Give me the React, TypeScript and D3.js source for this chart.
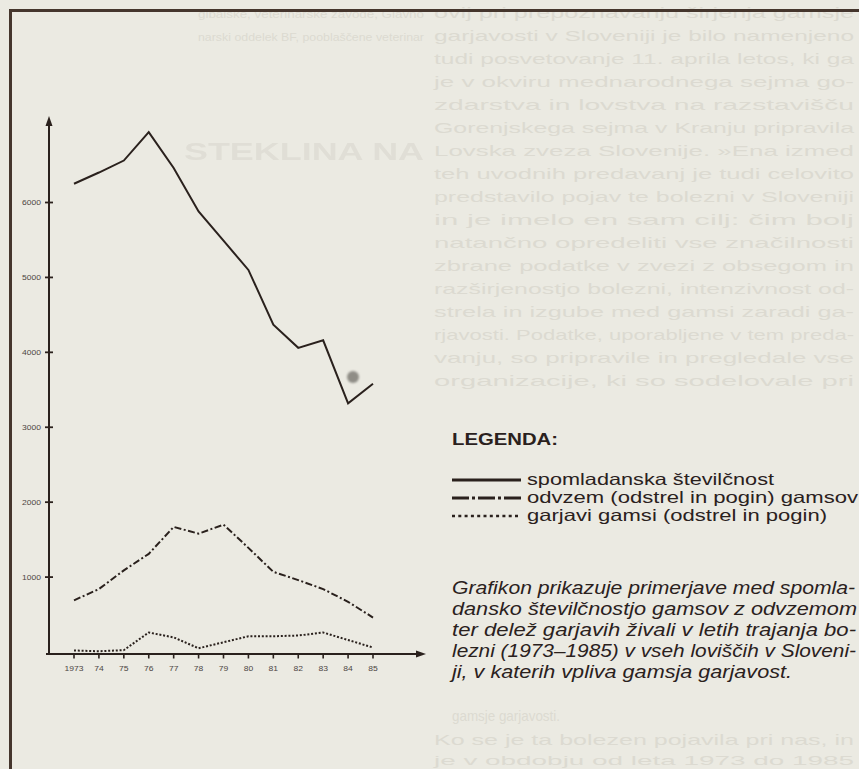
import { useMemo } from "react";
import * as d3 from "d3";

// years on the x axis
const years = [1973, 1974, 1975, 1976, 1977, 1978, 1979, 1980, 1981, 1982, 1983, 1984, 1985];
const yearLabels = ["1973", "74", "75", "76", "77", "78", "79", "80", "81", "82", "83", "84", "85"];

// spomladanska številčnost
const springCount = [6250, 6400, 6560, 6940, 6460, 5880, 5490, 5100, 4370, 4060, 4160, 3320, 3580];
// odvzem (odstrel in pogin) gamsov
const culled = [690, 840, 1090, 1310, 1670, 1580, 1700, 1390, 1070, 960, 840, 670, 460];
// garjavi gamsi (odstrel in pogin)
const mangy = [20, 10, 25, 260, 195, 50, 130, 210, 210, 220, 260, 160, 60];

const yTicks = [1000, 2000, 3000, 4000, 5000, 6000];

const legendLabels = [
  "spomladanska številčnost",
  "odvzem (odstrel in pogin) gamsov",
  "garjavi gamsi (odstrel in pogin)",
];

const captionLines = [
  "Grafikon prikazuje primerjave med spomla-",
  "dansko številčnostjo gamsov z odvzemom",
  "ter delež garjavih živali v letih trajanja bo-",
  "lezni (1973–1985) v vseh loviščih v Sloveni-",
  "ji, v katerih vpliva gamsja garjavost.",
];

// faint print showing through from the rest of the page
const pageTextRight = [
  "ovij pri prepoznavanju širjenja gamsje",
  "garjavosti v Sloveniji je bilo namenjeno",
  "tudi posvetovanje 11. aprila letos, ki ga",
  "je v okviru mednarodnega sejma go-",
  "zdarstva in lovstva na razstavišču",
  "Gorenjskega sejma v Kranju pripravila",
  "Lovska zveza Slovenije. »Ena izmed",
  "teh uvodnih predavanj je tudi celovito",
  "predstavilo pojav te bolezni v Sloveniji",
  "in je imelo en sam cilj: čim bolj",
  "natančno opredeliti vse značilnosti",
  "zbrane podatke v zvezi z obsegom in",
  "razširjenostjo bolezni, intenzivnost od-",
  "strela in izgube med gamsi zaradi ga-",
  "rjavosti. Podatke, uporabljene v tem preda-",
  "vanju, so pripravile in pregledale vse",
  "organizacije, ki so sodelovale pri",
];
const pageTextLeft = ["gibalske, veterinarske zavode, Glavno", "narski oddelek BF, pooblaščene veterinar"];
const pageTextBottom = ["gamsje garjavosti.", "Ko se je ta bolezen pojavila pri nas, in", "je v obdobju od leta 1973 do 1985"];

const W = 859;
const H = 769;
const ink = "#2a211d";
const paper = "#ebeae2";
const ghost = "#dcdad1";

export default function App() {
  const x = useMemo(() => d3.scaleLinear().domain([1973, 1985]).range([74, 373]), []);
  const y = useMemo(() => d3.scaleLinear().domain([0, 6000]).range([652, 202.5]), []);

  const line = d3
    .line<number>()
    .x((_, i) => x(years[i]))
    .y((d) => y(d));

  const axisY = 654;
  const axisX = 49;

  const legendX = 452;
  const legendRows = [480, 498, 516];
  const legendDash = ["none", "17 3 3 3", "3 3.3"];
  const legendWidths = [247, 331, 300];

  const captionWidths = [403, 405, 404, 404, 340];

  return (
    <svg
      width={W}
      height={H}
      style={{ position: "absolute", left: 0, top: 0, display: "block", background: paper }}
      fontFamily="'Liberation Sans', Arial, sans-serif"
    >
      <defs>
        <filter id="soft" x="-50%" y="-50%" width="200%" height="200%">
          <feGaussianBlur stdDeviation="1.2" />
        </filter>
      </defs>
      <rect width={W} height={H} fill={paper} />

      {/* show-through text */}
      <g fill={ghost} fontSize={15}>
        {pageTextRight.map((t, i) => (
          <text key={t} x={434} y={18 + i * 23} textLength={420} lengthAdjust="spacingAndGlyphs">
            {t}
          </text>
        ))}
        {pageTextLeft.map((t, i) => (
          <text
            key={t}
            x={198}
            y={18 + i * 23}
            fontSize={11.5}
            textLength={226}
            lengthAdjust="spacingAndGlyphs"
          >
            {t}
          </text>
        ))}
        <text x={452} y={721} textLength={108} lengthAdjust="spacingAndGlyphs">
          {pageTextBottom[0]}
        </text>
        <text x={434} y={745} textLength={420} lengthAdjust="spacingAndGlyphs">
          {pageTextBottom[1]}
        </text>
        <text x={434} y={765} fontSize={13} textLength={420} lengthAdjust="spacingAndGlyphs">
          {pageTextBottom[2]}
        </text>
        <text
          x={184}
          y={160}
          fontSize={24}
          fontWeight="bold"
          textLength={240}
          lengthAdjust="spacingAndGlyphs"
          opacity={0.7}
        >
          STEKLINA NA
        </text>
      </g>

      {/* frame */}
      <line x1={10.5} y1={10.5} x2={W} y2={10.5} stroke="#45362d" strokeWidth={3} />
      <line x1={10.5} y1={9} x2={10.5} y2={H} stroke="#45362d" strokeWidth={3} />

      {/* axes */}
      <line x1={axisX} y1={axisY + 1} x2={axisX} y2={122} stroke={ink} strokeWidth={2} />
      <path d={`M${axisX},116 L${axisX - 3.5},126 L${axisX + 3.5},126 Z`} fill={ink} />
      <line x1={46} y1={axisY} x2={418} y2={axisY} stroke={ink} strokeWidth={2} />
      <path d={`M426,${axisY} L416,${axisY - 3.5} L416,${axisY + 3.5} Z`} fill={ink} />

      {yTicks.map((v) => (
        <g key={v}>
          <line x1={45} x2={53} y1={y(v)} y2={y(v)} stroke={ink} strokeWidth={1.8} />
          <text
            x={41}
            y={y(v) + 2.7}
            textAnchor="end"
            fontSize={7.5}
            fill="#4d4642"
            textLength={19}
            lengthAdjust="spacingAndGlyphs"
          >
            {v}
          </text>
        </g>
      ))}

      {years.map((yr, i) => (
        <g key={yr}>
          <line x1={x(yr)} x2={x(yr)} y1={axisY} y2={axisY + 4.5} stroke={ink} strokeWidth={1.6} />
          <text
            x={x(yr)}
            y={671}
            textAnchor="middle"
            fontSize={7.5}
            fill="#4d4642"
            textLength={yearLabels[i].length === 4 ? 19 : 9.5}
            lengthAdjust="spacingAndGlyphs"
          >
            {yearLabels[i]}
          </text>
        </g>
      ))}

      {/* series */}
      <path d={line(springCount) ?? ""} fill="none" stroke={ink} strokeWidth={2} strokeLinejoin="miter" />
      <path d={line(culled) ?? ""} fill="none" stroke={ink} strokeWidth={2} strokeDasharray="7 2.5 2 2.5" />
      <path d={line(mangy) ?? ""} fill="none" stroke={ink} strokeWidth={2} strokeDasharray="2 1.8" />

      {/* stain on the print */}
      <circle cx={353} cy={377} r={6} fill="#8f8d86" filter="url(#soft)" />

      {/* legend */}
      <text x={legendX} y={445} fontSize={17} fontWeight="bold" fill={ink} textLength={106} lengthAdjust="spacingAndGlyphs">
        LEGENDA:
      </text>
      {legendLabels.map((label, i) => (
        <g key={label}>
          <line
            x1={legendX}
            x2={legendX + 69}
            y1={legendRows[i]}
            y2={legendRows[i]}
            stroke={ink}
            strokeWidth={i === 2 ? 2.6 : 3.2}
            strokeDasharray={legendDash[i]}
          />
          <text
            x={527}
            y={legendRows[i] + 5}
            fontSize={16.5}
            fill={ink}
            textLength={legendWidths[i]}
            lengthAdjust="spacingAndGlyphs"
          >
            {label}
          </text>
        </g>
      ))}

      {/* caption */}
      {captionLines.map((t, i) => (
        <text
          key={t}
          x={452}
          y={594 + i * 21}
          fontSize={18}
          fontStyle="italic"
          fill={ink}
          textLength={captionWidths[i]}
          lengthAdjust="spacingAndGlyphs"
        >
          {t}
        </text>
      ))}
    </svg>
  );
}
